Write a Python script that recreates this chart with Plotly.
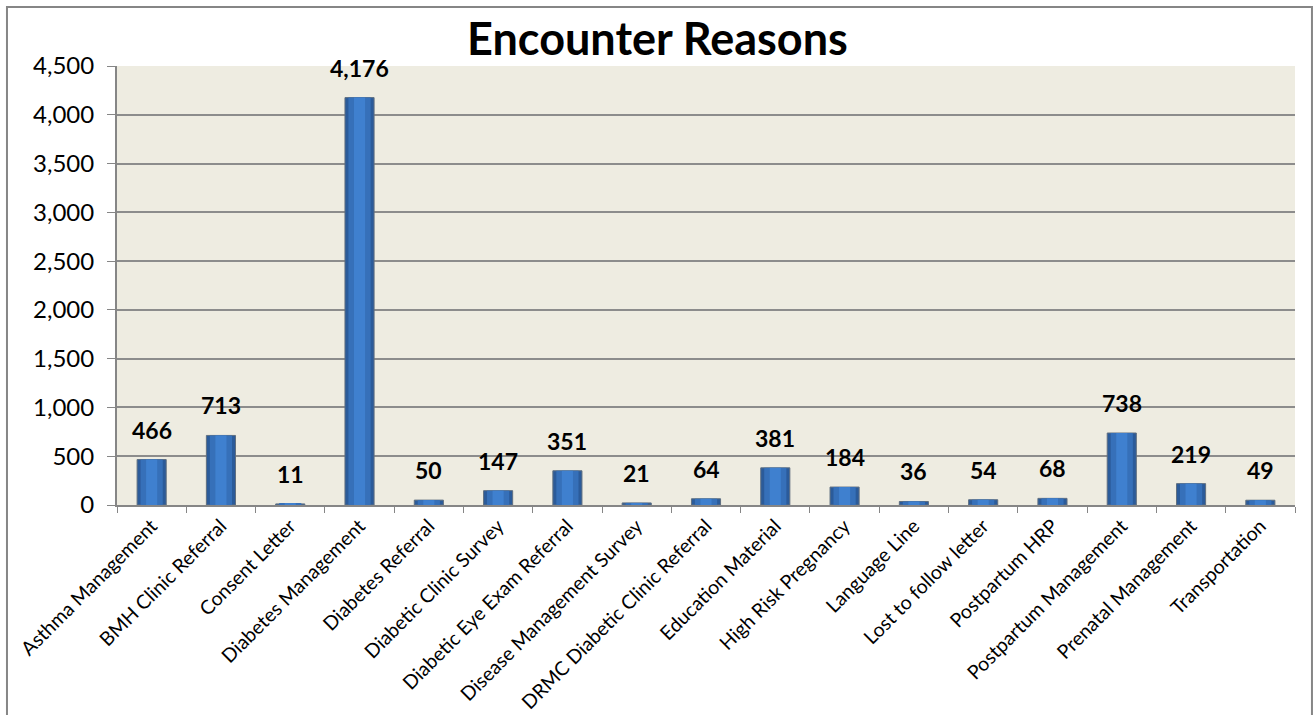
import plotly.graph_objects as go

categories = [
    "Asthma Management", "BMH Clinic Referral", "Consent Letter",
    "Diabetes Management", "Diabetes Referral", "Diabetic Clinic Survey",
    "Diabetic Eye Exam Referral", "Disease Management Survey",
    "DRMC Diabetic Clinic Referral", "Education Material",
    "High Risk Pregnancy", "Language Line", "Lost to follow letter",
    "Postpartum HRP", "Postpartum Management", "Prenatal Management",
    "Transportation",
]
counts = [466, 713, 11, 4176, 50, 147, 351, 21, 64, 381, 184, 36, 54, 68, 738, 219, 49]

y_ticks = [0, 500, 1000, 1500, 2000, 2500, 3000, 3500, 4000, 4500]
y_tick_text = ["0", "500", "1,000", "1,500", "2,000", "2,500", "3,000", "3,500", "4,000", "4,500"]

FONT = "Lato, Carlito, Calibri, sans-serif"

fig = go.Figure()

# layered bars give the rounded, shaded column look
shades = [(0.42, "#2B5B9A", "#5F6F80"), (0.32, "#3670B9", None), (0.16, "#3F80CF", None)]
for width, color, line in shades:
    fig.add_trace(go.Bar(
        x=categories, y=counts, width=width,
        marker=dict(color=color,
                    line=dict(color=line or color, width=1 if line else 0)),
        hoverinfo="skip", showlegend=False,
    ))

# value labels above each column
for cat, val in zip(categories, counts):
    fig.add_annotation(
        x=cat, y=val, text=f"<b>{val:,}</b>", showarrow=False,
        yanchor="bottom", yshift=14,
        font=dict(family=FONT, size=23, color="#000000"),
    )

# outer chart frame
fig.add_shape(type="rect", xref="paper", yref="paper",
              x0=-0.0934, x1=1.0144, y0=-0.6, y1=1.1344,
              line=dict(color="#868686", width=2), fillcolor="rgba(0,0,0,0)",
              layer="below")

fig.update_layout(
    width=1315, height=715,
    barmode="overlay",
    title=dict(text="<b>Encounter Reasons</b>", x=0.5, xanchor="center",
               y=0.945, yanchor="middle",
               font=dict(family=FONT, size=45, color="#000000")),
    plot_bgcolor="#EEECE1",
    paper_bgcolor="#FFFFFF",
    margin=dict(l=117, r=20, t=66, b=210, autoexpand=False),
    font=dict(family=FONT, color="#000000"),
    xaxis=dict(
        type="category", tickangle=-45, tickson="boundaries",
        ticks="outside", ticklen=6, tickcolor="#868686", tickwidth=1,
        showline=True, linecolor="#868686", linewidth=2, automargin=False,
        showgrid=False, tickfont=dict(family=FONT, size=19.5),
    ),
    yaxis=dict(
        range=[0, 4500], tickvals=y_ticks, ticktext=y_tick_text,
        ticks="outside", ticklen=8, tickcolor="#868686",
        ticklabelstandoff=8, automargin=False,
        showline=True, linecolor="#868686", linewidth=2,
        showgrid=True, gridcolor="#8C8C8C", gridwidth=2,
        zeroline=False, tickfont=dict(family=FONT, size=24),
    ),
)

fig.write_html("out.html")
